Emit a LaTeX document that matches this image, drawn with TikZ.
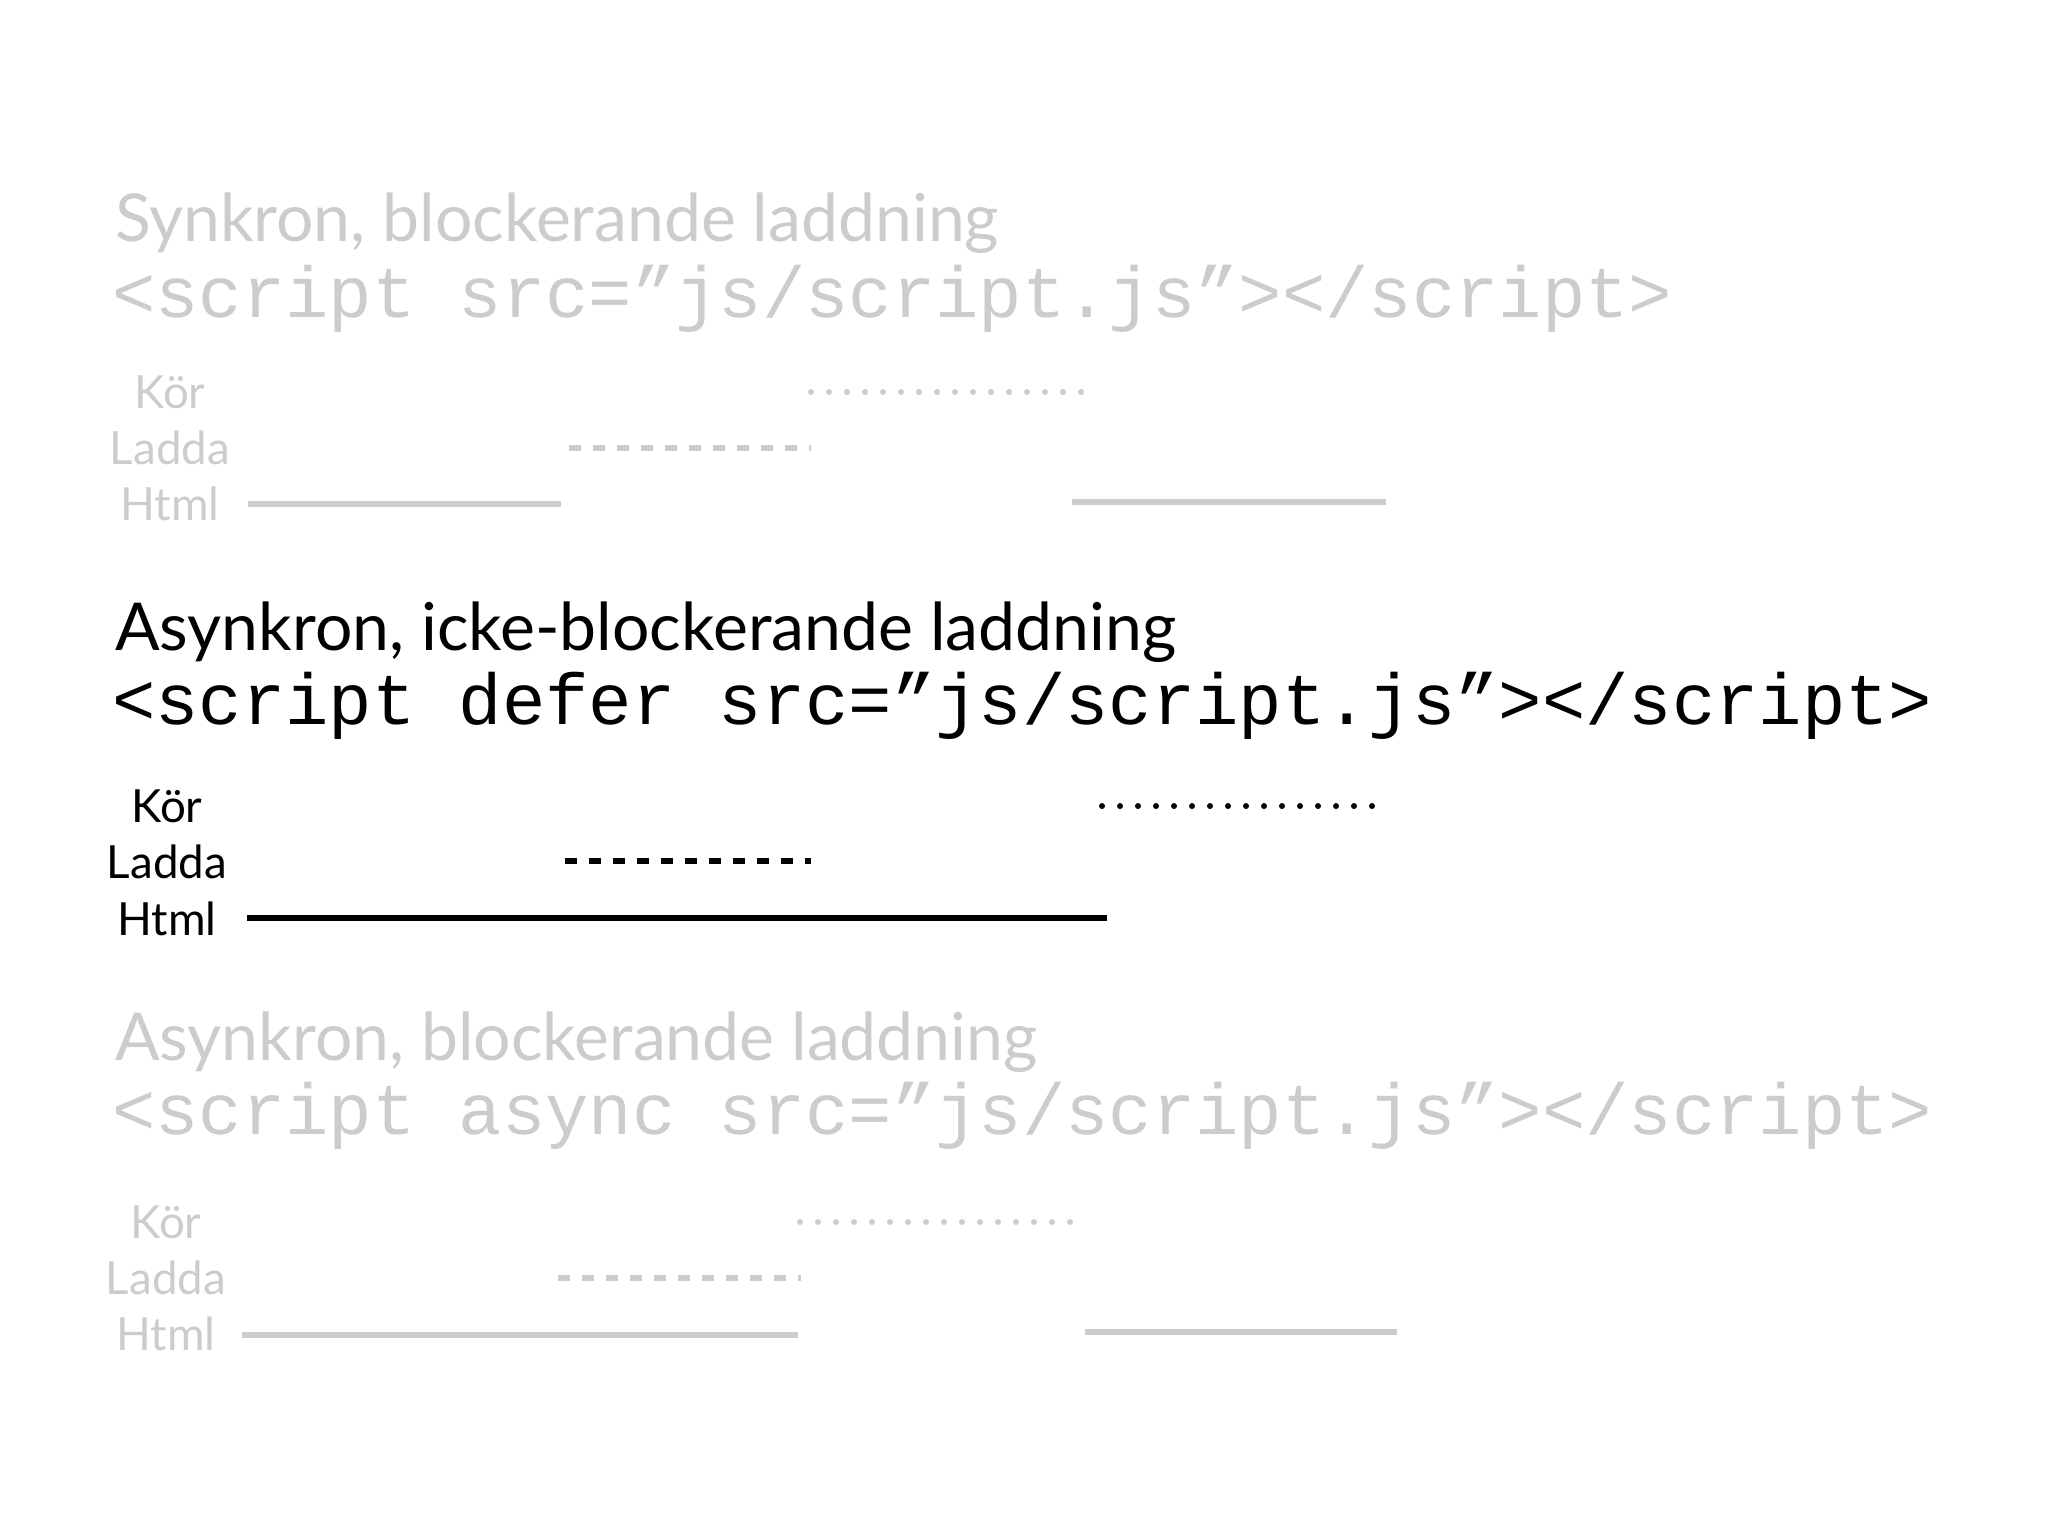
\documentclass[tikz,border=0pt]{standalone}
\usepackage{fontspec}
\setmainfont{Lato}
\newfontfamily\codefont{Liberation Mono}
\usetikzlibrary{positioning}

\definecolor{faded}{gray}{0.8}

\begin{document}
\begin{tikzpicture}[
    x=0.1mm, y=-0.1mm,
    every node/.style={inner sep=0pt, outer sep=0pt},
    heading/.style={anchor=base west, font=\fontsize{18.8}{22}\selectfont},
    code/.style={anchor=base west, font=\codefont\fontsize{20.55}{24}\selectfont},
    lane/.style={anchor=base, font=\fontsize{13}{16}\selectfont},
    htmlbar/.style={line width=0.6mm},
    loadbar/.style={line width=0.6mm, dash pattern=on 1.2mm off 1.2mm},
    runbar/.style={line width=0.6mm, line cap=round, dash pattern=on 0pt off 1.8mm}
]

\useasboundingbox (0,0) rectangle (2048,1536);

% Synkron (faded)
\begin{scope}[faded]
\node[heading] (sync title) at (115,241) {Synkron, blockerande laddning};
\node[code] (sync code) at (112,317) {<script src=”js/script.js”></script>};
\node[lane] (sync run) at (170,408) {Kör};
\node[lane] (sync load) at (170,464) {Ladda};
\node[lane] (sync html) at (170,520) {Html};
\draw[runbar] (811,392) -- (1083,392);
\draw[loadbar] (569,448) -- (811,448);
\draw[htmlbar] (248,504) -- (561,504);
\draw[htmlbar] (1072,502) -- (1386,502);
\end{scope}

% Defer (highlighted)
\node[heading] (defer title) at (115,650) {Asynkron, icke-blockerande laddning};
\node[code] (defer code) at (112,724) {<script defer src=”js/script.js”></script>};
\node[lane] (defer run) at (167,822) {Kör};
\node[lane] (defer load) at (167,878) {Ladda};
\node[lane] (defer html) at (167,935) {Html};
\draw[runbar] (1102,806) -- (1373,806);
\draw[loadbar] (565,861) -- (811,861);
\draw[htmlbar] (247,918) -- (1107,918);

% Async (faded)
\begin{scope}[faded]
\node[heading] (async title) at (115,1060) {Asynkron, blockerande laddning};
\node[code] (async code) at (112,1134) {<script async src=”js/script.js”></script>};
\node[lane] (async run) at (166,1238) {Kör};
\node[lane] (async load) at (166,1294) {Ladda};
\node[lane] (async html) at (166,1350) {Html};
\draw[runbar] (800,1222) -- (1075,1222);
\draw[loadbar] (558,1278) -- (801,1278);
\draw[htmlbar] (242,1335) -- (798,1335);
\draw[htmlbar] (1085,1332) -- (1397,1332);
\end{scope}

\end{tikzpicture}
\end{document}
